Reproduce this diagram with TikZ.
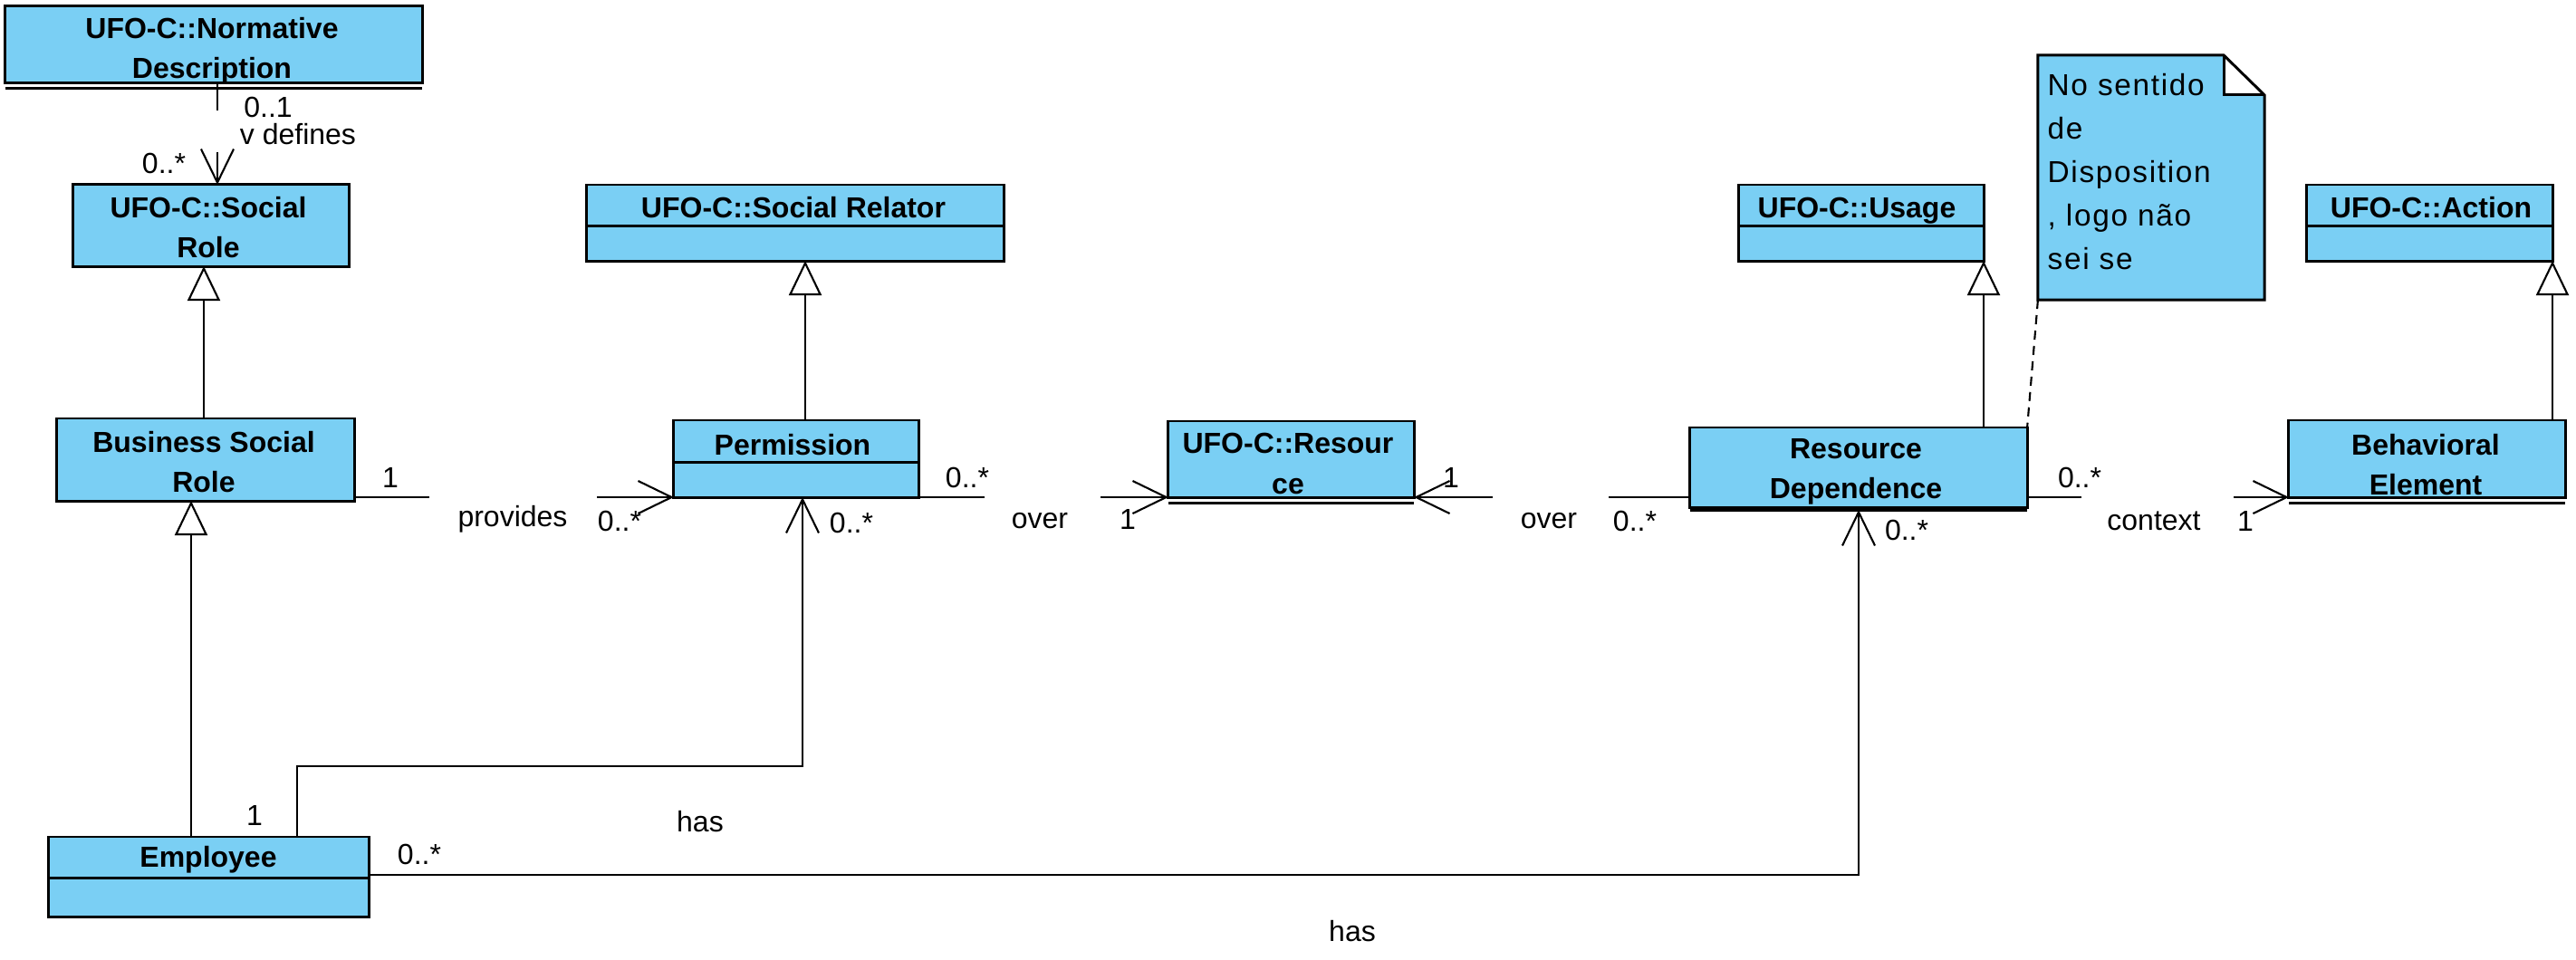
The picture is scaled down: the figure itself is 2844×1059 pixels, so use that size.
\documentclass[tikz,border=0pt]{standalone}
\usepackage{fontspec}
\setmainfont{Liberation Sans}
\newfontfamily\notefont[LetterSpace=5]{Liberation Sans}
\usetikzlibrary{arrows.meta}
\definecolor{clsblue}{RGB}{122,207,244}
\begin{document}
\begin{tikzpicture}[x=0.01cm,y=-0.01cm,
  cls/.style={draw,line width=0.85pt,fill=clsblue,inner sep=0pt,outer sep=0pt},
  nm/.style={font=\bfseries\fontsize{9.1pt}{12.6pt}\selectfont,align=center,inner sep=0pt},
  lbl/.style={font=\fontsize{9.1pt}{11pt}\selectfont,inner sep=0pt},
  notetext/.style={font=\notefont\fontsize{9.5pt}{13.6pt}\selectfont,align=left,inner sep=0pt,anchor=north west},
  boxline/.style={line width=0.85pt},
  conn/.style={line width=0.6pt},
  assoc/.style={-{Straight Barb[length=0.37cm,width=0.36cm]}},
  gen/.style={-{Triangle[fill=white,length=0.38cm,width=0.36cm]}},
]
\useasboundingbox (0,0) rectangle (2844,1059);

% ---------- class boxes ----------
\node[cls,minimum width=4.60cm,minimum height=0.84cm] (nd) at (236,49) {};
\node[nm] (ndT) at (234,56) {UFO-C::Normative\\Description};
\draw[boxline] ([yshift=-0.06cm]nd.south west) -- ([yshift=-0.06cm]nd.south east);

\node[cls,minimum width=3.04cm,minimum height=0.90cm] (sr) at (233,249) {};
\node[nm] (srT) at (230,251) {UFO-C::Social\\Role};

\node[cls,minimum width=4.60cm,minimum height=0.84cm] (srel) at (878,246) {};
\draw[boxline] (srel.west |- 0,249) -- (srel.east |- 0,249);
\node[nm,anchor=base] (srelT) at (876,240) {UFO-C::Social Relator};

\node[cls,minimum width=2.70cm,minimum height=0.84cm] (usage) at (2055,246) {};
\draw[boxline] (usage.west |- 0,249) -- (usage.east |- 0,249);
\node[nm,anchor=base] (usageT) at (2050,240) {UFO-C::Usage};

\node[cls,minimum width=2.71cm,minimum height=0.84cm] (action) at (2682.5,246) {};
\draw[boxline] (action.west |- 0,249) -- (action.east |- 0,249);
\node[nm,anchor=base] (actionT) at (2684,240) {UFO-C::Action};

\node[cls,minimum width=3.28cm,minimum height=0.91cm] (bsr) at (227,507.5) {};
\node[nm] (bsrT) at (225,510) {Business Social\\Role};

\node[cls,minimum width=2.70cm,minimum height=0.85cm] (perm) at (879,506.5) {};
\draw[boxline] (perm.west |- 0,510) -- (perm.east |- 0,510);
\node[nm,anchor=base] (permT) at (875,502) {Permission};

\node[cls,minimum width=2.71cm,minimum height=0.84cm] (res) at (1425.5,507) {};
\node[nm] (resT) at (1422,512) {UFO-C::Resour\\ce};
\draw[boxline] ([yshift=-0.06cm]res.south west) -- ([yshift=-0.06cm]res.south east);

\node[cls,minimum width=3.72cm,minimum height=0.88cm] (rd) at (2052,516) {};
\node[nm] (rdT) at (2049,521) {Resource\\Dependence};
\draw[boxline] ([yshift=-0.03cm]rd.south west) -- ([yshift=-0.03cm]rd.south east);

\node[cls,minimum width=3.05cm,minimum height=0.85cm] (be) at (2679.5,506.5) {};
\node[nm] (beT) at (2678,513) {Behavioral\\Element};
\draw[boxline] ([yshift=-0.06cm]be.south west) -- ([yshift=-0.06cm]be.south east);

\node[cls,minimum width=3.53cm,minimum height=0.88cm] (emp) at (230.5,968) {};
\draw[boxline] (emp.west |- 0,969) -- (emp.east |- 0,969);
\node[nm,anchor=base] (empT) at (230,957) {Employee};

% ---------- note ----------
\node[inner sep=0pt,outer sep=0pt,minimum width=2.50cm,minimum height=2.70cm] (note) at (2375,196) {};
\fill[clsblue] (note.north west) -- ([xshift=-0.45cm]note.north east) -- ([xshift=-0.45cm,yshift=-0.44cm]note.north east)
  -- ([yshift=-0.44cm]note.north east) -- (note.south east) -- (note.south west) -- cycle;
\draw[boxline] (note.north west) -- ([xshift=-0.45cm]note.north east) -- ([yshift=-0.44cm]note.north east)
  -- (note.south east) -- (note.south west) -- cycle;
\draw[boxline] ([xshift=-0.45cm]note.north east) -- ([xshift=-0.45cm,yshift=-0.44cm]note.north east) -- ([yshift=-0.44cm]note.north east);
\node[notetext] (noteT) at (2260,81) {No sentido\\de\\Disposition\\, logo não\\sei se};
\draw[conn,dash pattern=on 0.10cm off 0.07cm] (note.south west) -- (rd.north east);

% ---------- generalizations ----------
\draw[conn,gen] (bsr.north -| 225,0) -- (sr.south -| 225,0);
\draw[conn,gen] (emp.north -| 211,0) -- (bsr.south -| 211,0);
\draw[conn,gen] (perm.north -| 889,0) -- (srel.south -| 889,0);
\draw[conn,gen] (rd.north -| 2190,0) -- (usage.south -| 2190,0);
\draw[conn,gen] (be.north -| 2818,0) -- (action.south -| 2818,0);

% ---------- associations ----------
\coordinate (defA) at (240,122);
\coordinate (defB) at (240,168);
\draw[conn] (nd.south -| defA) -- (defA);
\draw[conn,assoc] (defB) -- (sr.north -| defB);

\coordinate (provA) at (474,549);
\coordinate (provB) at (659,549);
\draw[conn] (bsr.east |- provA) -- (provA);
\draw[conn,assoc] (provB) -- (perm.west |- provB);

\coordinate (ovA) at (1087,549);
\coordinate (ovB) at (1215,549);
\draw[conn] (perm.east |- ovA) -- (ovA);
\draw[conn,assoc] (ovB) -- (res.west |- ovB);

\coordinate (ovC) at (1776,549);
\coordinate (ovD) at (1648,549);
\draw[conn] (rd.west |- ovC) -- (ovC);
\draw[conn,assoc] (ovD) -- (res.east |- ovD);

\coordinate (ctxA) at (2298,549);
\coordinate (ctxB) at (2466,549);
\draw[conn] (rd.east |- ctxA) -- (ctxA);
\draw[conn,assoc] (ctxB) -- (be.west |- ctxB);

\coordinate (hasA) at (328,846);
\coordinate (hasB) at (886,846);
\draw[conn,assoc] (emp.north -| hasA) -- (hasA) -- (hasB) -- (perm.south -| hasB);

\coordinate (hasC) at (2052,966);
\draw[conn,assoc] (emp.east |- hasC) -- (hasC) -- ([yshift=-0.03cm]rd.south -| hasC);

% ---------- labels ----------
\node[lbl] (l01) at (296,118) {0..1};
\node[lbl] (ldef) at (329,148) {v defines};
\node[lbl] (lsr) at (181,180) {0..*};
\node[lbl] (lp1) at (431,527) {1};
\node[lbl] (lprov) at (566,573) {provides};
\node[lbl] (lp2) at (684,575) {0..*};
\node[lbl] (lo1a) at (1068,527) {0..*};
\node[lbl] (lo1) at (1148,575) {over};
\node[lbl] (lo1b) at (1245,573) {1};
\node[lbl] (lo2b) at (1602,527) {1};
\node[lbl] (lo2) at (1710,575) {over};
\node[lbl] (lo2a) at (1805,575) {0..*};
\node[lbl] (lc1) at (2296,527) {0..*};
\node[lbl] (lctx) at (2378,575) {context};
\node[lbl] (lc2) at (2479,575) {1};
\node[lbl] (lh1a) at (281,900) {1};
\node[lbl] (lh1) at (773,907) {has};
\node[lbl] (lh1b) at (940,577) {0..*};
\node[lbl] (lh2a) at (463,943) {0..*};
\node[lbl] (lh2) at (1493,1028) {has};
\node[lbl] (lh2b) at (2105,585) {0..*};
\end{tikzpicture}
\end{document}
